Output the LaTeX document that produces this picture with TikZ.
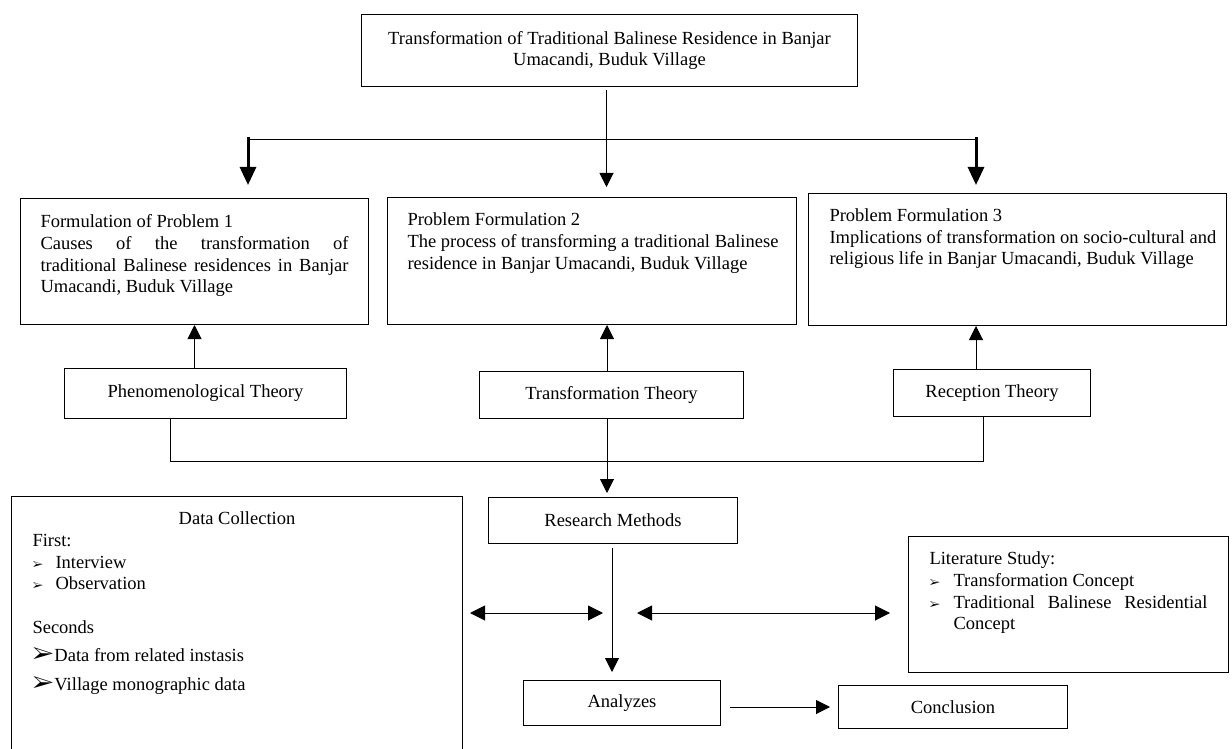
\documentclass[tikz,border=0pt]{standalone}
\usepackage{fontspec}
\setmainfont{Liberation Serif}
\usepackage{pifont}
\usetikzlibrary{arrows.meta}
\newcommand{\smallbul}{\makebox[24pt][l]{\fontsize{11.5}{12}\selectfont\ding{226}}}
\newcommand{\dcsmallbul}{\makebox[23pt][l]{\fontsize{11.5}{12}\selectfont\ding{226}}}
\newcommand{\bigbul}{\makebox[22pt][l]{\fontsize{23}{24}\selectfont\ding{226}}}
\begin{document}
\begin{tikzpicture}[x=1pt,y=1pt,
  every node/.style={font=\fontsize{18.5}{21.7}\selectfont},
  box/.style={draw, line width=1pt, inner sep=0pt, anchor=north west},
  arr/.style={line width=1pt, -{Triangle[length=14pt,width=14pt]}},
  tarr/.style={line width=3pt, -{Triangle[length=18pt,width=16pt]}},
  darr/.style={line width=1pt, {Triangle[length=15pt,width=15pt]}-{Triangle[length=15pt,width=15pt]}},
  ln/.style={line width=1pt}]
\useasboundingbox (0,0) rectangle (1232,-749);
\clip (0,0) rectangle (1232,-749);

% boxes
\node[box] (top) at (361,-14) {\parbox[c][72pt][t]{496pt}{\vspace*{16.6pt}\centering Transformation of Traditional Balinese Residence in Banjar\\ Umacandi, Buduk Village}};

\node[box] (pf1) at (20,-198) {\parbox[c][126pt][t]{348pt}{\leftskip=20pt\rightskip=20pt\vspace*{16.3pt}Formulation of Problem 1\\ Causes of the transformation of\linebreak traditional Balinese residences in Banjar\linebreak Umacandi, Buduk Village}};

\node[box] (pf2) at (387,-197) {\parbox[c][127pt][t]{409pt}{\leftskip=20pt\vspace*{15.3pt}Problem Formulation 2\\ The process of transforming a traditional Balinese\\ residence in Banjar Umacandi, Buduk Village}};

\node[box] (pf3) at (808,-193) {\parbox[c][132pt][t]{418pt}{\leftskip=21pt\vspace*{15pt}Problem Formulation 3\\ Implications of transformation on socio-cultural and\\ religious life in Banjar Umacandi, Buduk Village}};

\node[box, minimum width=282pt, minimum height=50pt] (phen) at (64,-368) {Phenomenological Theory};
\node[box, minimum width=264pt, minimum height=47pt] (trans) at (479,-371) {Transformation Theory};
\node[box, minimum width=197pt, minimum height=47pt] (rec) at (893,-369) {Reception Theory};
\node[box, minimum width=249pt, minimum height=46pt] (rm) at (488,-497) {Research Methods};
\node[box, minimum width=197pt, minimum height=45pt] (an) at (523,-680) {Analyzes};
\node[box, minimum width=229pt, minimum height=43pt] (concl) at (838,-685) {Conclusion};

\node[box] (dc) at (11,-496) {\parbox[c][270pt][t]{451pt}{\leftskip=21pt\rightskip=21pt\vspace*{15.3pt}\hfil Data Collection\\ First:\\ \dcsmallbul Interview\\ \dcsmallbul Observation\\[22.5pt] Seconds\\[5.5pt] \bigbul Data from related instasis\\[7.5pt] \bigbul Village monographic data}};

\node[box] (lit) at (908,-536) {\parbox[c][136pt][t]{320pt}{\leftskip=21pt\rightskip=21pt\vspace*{15.3pt}Literature Study:\\ \smallbul Transformation Concept\\ \smallbul Traditional Balinese Residential\linebreak \hspace*{24pt}Concept}};

% junction points
\coordinate (bl) at (248,-140);
\coordinate (br) at (976,-140);
\coordinate (ax) at (607,-461);
\coordinate (jl) at (170,-461);
\coordinate (jr) at (983,-461);
\coordinate (am) at (612,-613);

% connectors
\draw[arr, shorten <=3pt, shorten >=10pt] ([xshift=-3pt]top.south) -- ([xshift=-3pt]top.south |- pf2.north);
\draw[ln] (bl) -- (br);
\draw[tarr, shorten >=13pt] ([yshift=3pt]bl) -- (bl |- pf1.north);
\draw[tarr, shorten >=8pt] ([yshift=3pt]br) -- (br |- pf3.north);
\draw[arr] (pf1.south |- phen.north) -- (pf1.south);
\draw[arr] (ax |- trans.north) -- (ax |- pf2.south);
\draw[arr] (br |- rec.north) -- (br |- pf3.south);
\draw[ln] (phen.south -| jl) -- (jl) -- (jr) -- (rec.south -| jr);
\draw[arr, shorten >=4pt] (ax |- trans.south) -- (ax |- rm.north);
\draw[arr, shorten <=4pt, shorten >=8pt] (am |- rm.south) -- (am |- an.north);
\draw[darr, shorten <=7pt, shorten >=9pt] (dc.east |- am) -- (am);
\draw[darr, shorten <=25pt, shorten >=18pt] (am) -- (am -| lit.west);
\draw[arr, shorten <=9pt, shorten >=8pt] (an.east |- concl.west) -- (concl.west);
\end{tikzpicture}
\end{document}
